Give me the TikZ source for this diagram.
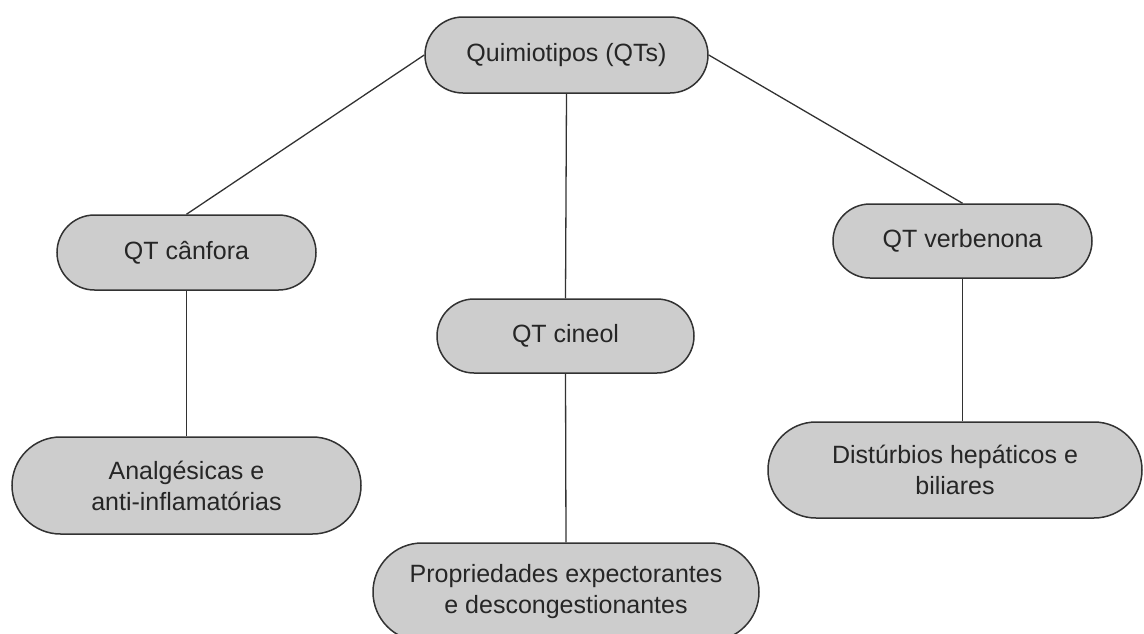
\documentclass[tikz,border=0pt]{standalone}
\usepackage{fontspec}
\setmainfont{Liberation Sans}
\usetikzlibrary{shapes.misc}
\definecolor{boxgray}{RGB}{205,205,205}
\definecolor{linegray}{RGB}{50,50,50}
\tikzset{
	qtbox/.style={rounded rectangle, draw=linegray, fill=boxgray, line width=1.5pt,
		inner sep=0pt, align=center, text=black!85,
		font=\fontsize{25}{31}\selectfont},
	link/.style={draw=linegray, line width=1.3pt}
}
\begin{document}
\begin{tikzpicture}[x=1pt,y=-1pt]
		\useasboundingbox (0,0) rectangle (1144,633);
		
		\node[qtbox,minimum width=283pt,minimum height=76pt] (qts) at (566.5,55) {Quimiotipos (QTs)};
		
		\node[qtbox,minimum width=259pt,minimum height=75pt] (canfora) at (186.5,252.5) {QT cânfora};
		\node[qtbox,minimum width=257pt,minimum height=74pt] (cineol) at (565.5,336) {QT cineol};
		\node[qtbox,minimum width=259pt,minimum height=74pt] (verbenona) at (962.5,241) {QT verbenona};
		
		\node[qtbox,minimum width=349pt,minimum height=97pt] (analg) at (186.5,485.5) {Analgésicas e\\anti-inflamatórias};
		\node[qtbox,minimum width=386pt,minimum height=98pt] (propr) at (566,592) {Propriedades expectorantes\\e descongestionantes};
		\node[qtbox,minimum width=374pt,minimum height=96pt] (disturb) at (955,470) {Distúrbios hepáticos e\\biliares};
		
		\draw[link] (qts.west) -- (canfora.north);
		\draw[link] (qts.south) -- (cineol.north);
		\draw[link] (qts.east) -- (verbenona.north);
		
		\draw[link] (canfora.south) -- (analg.north);
		\draw[link] (cineol.south) -- (propr.north);
		\draw[link] (verbenona.south) -- (verbenona.south |- disturb.north);
		
	\end{tikzpicture}
\end{document}
